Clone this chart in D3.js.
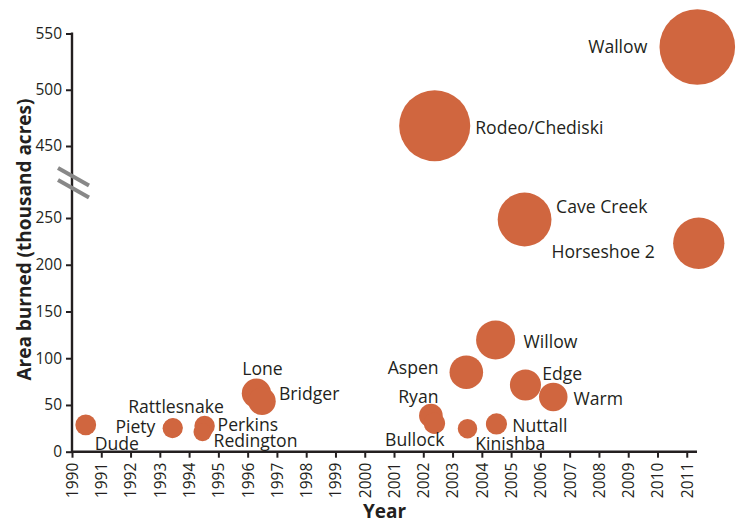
<!DOCTYPE html>
<html>
<head>
<meta charset="utf-8">
<script src="https://cdn.jsdelivr.net/npm/d3@7"></script>
<style>
  html, body { margin: 0; padding: 0; background: #fff; }
  svg { display: block; }
  text { font-family: "Open Sans", "DejaVu Sans", sans-serif; fill: #231f20; }
</style>
</head>
<body>
<svg id="chart" width="737" height="523"></svg>
<script>
// ---- Data ----
const fires  = ["Dude","Rattlesnake","Piety","Perkins","Redington","Lone","Bridger",
                "Ryan","Bullock","Rodeo/Chediski","Aspen","Kinishba","Willow","Nuttall",
                "Cave Creek","Edge","Warm","Wallow","Horseshoe 2"];
const years  = [1990.47,1993.45,1993.43,1994.53,1994.46,1996.3,1996.49,
                2002.26,2002.38,2002.39,2003.47,2003.51,2004.47,2004.5,
                2005.46,2005.49,2006.44,2011.36,2011.41];
const areas  = [28.6,25.5,25,27.5,21,62.5,54,
                38.5,30.4,468,85,24.6,119.6,29.7,
                248.4,71.4,58.6,538,223];
const xTicks = d3.range(1990, 2012);
const yTicksLow  = [0,50,100,150,200,250];
const yTicksHigh = [450,500,550];

// label placement relative to bubble centre (layout only)
const labelPlace = {
  "Dude":["start",9,19], "Rattlesnake":["middle",3,-21], "Piety":["end",-17,-1.5],
  "Perkins":["start",13,-1], "Redington":["start",11,8.7], "Lone":["middle",6,-24],
  "Bridger":["start",17,-7.7], "Ryan":["end",7.6,-18.4], "Bullock":["end",10,16.7],
  "Rodeo/Chediski":["start",40.5,2.5], "Aspen":["end",-27.7,-4.6], "Kinishba":["start",7.7,15.3],
  "Willow":["start",28,1.7], "Nuttall":["start",15.7,2], "Cave Creek":["start",31.5,-13],
  "Edge":["start",16.7,-11], "Warm":["start",20.3,2], "Wallow":["end",-50,0],
  "Horseshoe 2":["end",-44,8.4]
};

const svg = d3.select("#chart");
const x = d3.scaleLinear().domain([1990, 2011.35]).range([72, 697]);
const yLow  = d3.scaleLinear().domain([0, 250]).range([451.7, 218]);
const yHigh = d3.scaleLinear().domain([450, 550]).range([146, 33.5]);
const y = v => v <= 350 ? yLow(v) : yHigh(v);
const r = d3.scalePow().exponent(0.44).domain([0, 538]).range([0, 37.8]);

const data = fires.map((f,i) => ({name:f, year:years[i], area:areas[i]}));

// bubbles
svg.append("g").selectAll("circle").data(data).join("circle")
  .attr("cx", d => x(d.year)).attr("cy", d => y(d.area)).attr("r", d => r(d.area))
  .attr("fill", "#d0663f");

// labels
svg.append("g").selectAll("text").data(data).join("text")
  .attr("x", d => x(d.year) + labelPlace[d.name][1])
  .attr("y", d => y(d.area) + labelPlace[d.name][2])
  .attr("dy", "0.35em")
  .attr("text-anchor", d => labelPlace[d.name][0])
  .style("font-size", "17.6px")
  .text(d => d.name);

// axes
const axisColor = "#231f20";
const gx = svg.append("g").attr("transform", `translate(0,${yLow(0)})`)
  .call(d3.axisBottom(x).tickValues(xTicks).tickFormat(d3.format("d")).tickSize(6).tickSizeOuter(0));
gx.select(".domain").remove();
gx.selectAll(".tick line").attr("stroke", axisColor).attr("stroke-width", 2);
gx.selectAll(".tick text")
  .attr("transform", "rotate(-90)").attr("text-anchor", "end")
  .attr("x", -11).attr("y", 0).attr("dy", "0.35em")
  .style("font-size", "15.5px").style("font-family", "'Open Sans', sans-serif").attr("fill", axisColor);

function yAxis(scale, ticks) {
  const g = svg.append("g").attr("transform", `translate(${x(1990)},0)`)
    .call(d3.axisLeft(scale).tickValues(ticks).tickSize(6).tickPadding(4));
  g.select(".domain").remove();
  g.selectAll(".tick line").attr("stroke", axisColor).attr("stroke-width", 2);
  g.selectAll(".tick text").style("font-size", "15.5px")
    .style("font-family", "'Open Sans', sans-serif").attr("fill", axisColor);
}
yAxis(yLow, yTicksLow);
yAxis(yHigh, yTicksHigh);

// axis lines
svg.append("line").attr("x1", x(1990)).attr("x2", x(1990))
  .attr("y1", yHigh(550) - 1).attr("y2", yLow(0) + 1)
  .attr("stroke", axisColor).attr("stroke-width", 2.4);
svg.append("line").attr("x1", x(1990) - 1).attr("x2", x.range()[1])
  .attr("y1", yLow(0)).attr("y2", yLow(0))
  .attr("stroke", axisColor).attr("stroke-width", 2.4);

// axis break marks
const bx = x(1990), by = (yLow(250) + yHigh(450)) / 2;
[-6, 6].forEach(off => {
  svg.append("line")
    .attr("x1", bx - 14).attr("y1", by + off - 8)
    .attr("x2", bx + 17).attr("y2", by + off + 9.5)
    .attr("stroke", "#888").attr("stroke-width", 4);
});

// titles
svg.append("text").attr("x", (x.range()[0] + x.range()[1]) / 2).attr("y", 518)
  .attr("text-anchor", "middle").style("font-size", "19px").style("font-weight", "bold")
  .text("Year");
svg.append("text")
  .attr("transform", `translate(31,${(yHigh(550) + yLow(0)) / 2 - 3}) rotate(-90)`)
  .attr("text-anchor", "middle").style("font-size", "19px").style("font-weight", "bold")
  .text("Area burned (thousand acres)");
</script>
</body>
</html>
